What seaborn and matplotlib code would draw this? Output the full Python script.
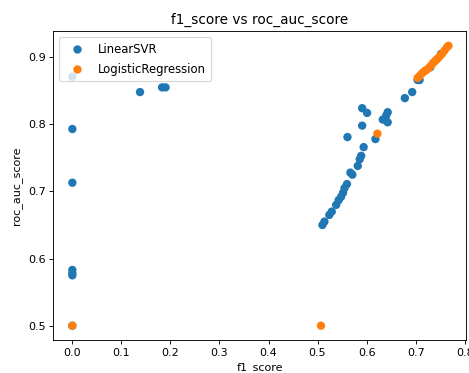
import matplotlib
matplotlib.use("Agg")
import matplotlib.pyplot as plt
import seaborn as sns
import pandas as pd

svr_f1 = [0.0, 0.0, 0.0, 0.0, 0.0, 0.0, 0.0,
          0.138, 0.183, 0.190,
          0.510, 0.514, 0.524, 0.529, 0.538, 0.543, 0.548, 0.552, 0.555, 0.560,
          0.567, 0.571, 0.582, 0.586, 0.589, 0.594, 0.561, 0.618, 0.591,
          0.633, 0.640, 0.643, 0.643, 0.591, 0.601,
          0.678, 0.693, 0.704, 0.708, 0.730, 0.752]
svr_auc = [0.871, 0.793, 0.713, 0.583, 0.578, 0.575, 0.500,
           0.848, 0.855, 0.855,
           0.650, 0.655, 0.665, 0.670, 0.680, 0.687, 0.692, 0.698, 0.705, 0.711,
           0.728, 0.725, 0.738, 0.748, 0.753, 0.766, 0.781, 0.778, 0.798,
           0.807, 0.813, 0.818, 0.803, 0.824, 0.817,
           0.839, 0.848, 0.866, 0.866, 0.885, 0.905]

lr_f1 = [0.0, 0.507, 0.622,
         0.704, 0.708, 0.713, 0.718, 0.722, 0.727, 0.731, 0.735, 0.738,
         0.742, 0.745, 0.749, 0.754, 0.759, 0.764, 0.767]
lr_auc = [0.500, 0.500, 0.786,
          0.869, 0.872, 0.876, 0.879, 0.881, 0.884, 0.887, 0.891, 0.893,
          0.896, 0.898, 0.901, 0.905, 0.910, 0.915, 0.917]

models = ["LinearSVR", "LogisticRegression"]

df = pd.DataFrame({
    "f1_score": svr_f1 + lr_f1,
    "roc_auc_score": svr_auc + lr_auc,
    "model": [models[0]] * len(svr_f1) + [models[1]] * len(lr_f1),
})

fig = plt.figure(figsize=(469 / 80, 373 / 80), dpi=80)
ax = fig.add_axes([0.1137, 0.0885, 0.8799, 0.8284])
sns.scatterplot(data=df, x="f1_score", y="roc_auc_score", hue="model",
                hue_order=models, palette=["#1f77b4", "#ff7f0e"],
                s=36, linewidth=1.5, edgecolor="face", ax=ax)
ax.set_xlim(-0.0388, 0.8027)
ax.set_ylim(0.4787, 0.939)
ax.set_title("f1_score vs roc_auc_score", fontsize=12.3)
ax.set_xlabel("f1_score")
ax.set_ylabel("roc_auc_score")
handles, labels = ax.get_legend_handles_labels()
ax.legend(handles, labels, loc="upper left", fontsize=10.5, labelspacing=0.6,
          borderpad=0.5)
fig.savefig("out.png", dpi=80)
